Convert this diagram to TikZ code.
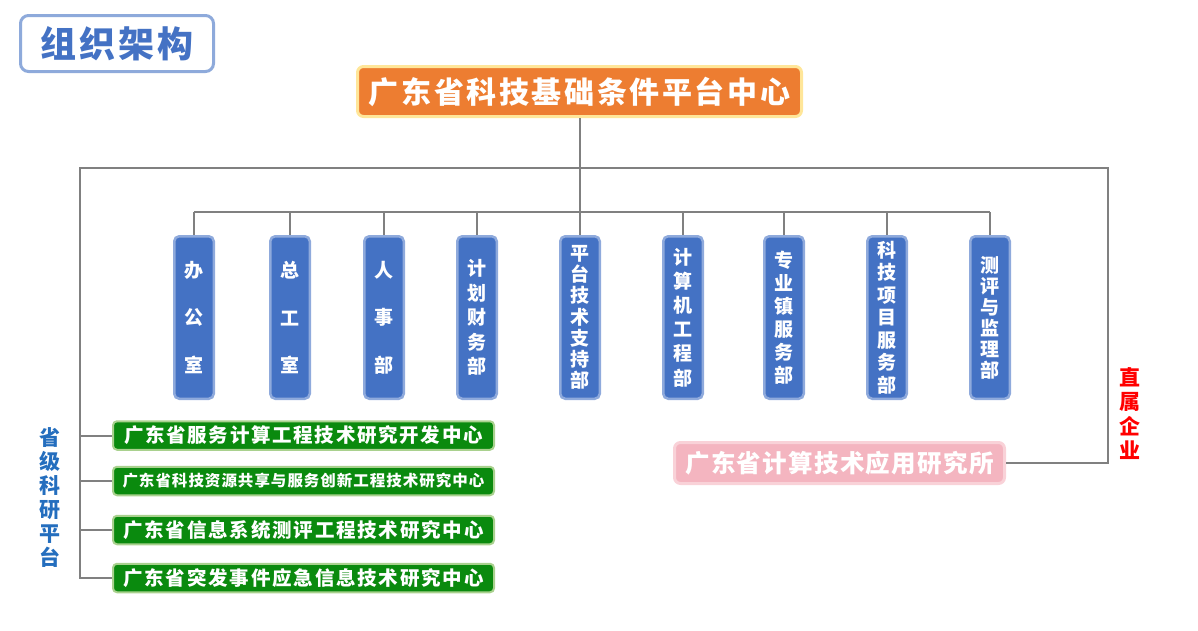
\documentclass[tikz,border=0pt]{standalone}
\usepackage{fontspec}
\setmainfont{Noto Sans CJK SC}
\ExplSyntaxOn
\dim_new:N \l_my_gap_dim
\tl_new:N \l_my_rest_tl
\cs_new:Npn \my_sp:n #1 { \hspace*{\l_my_gap_dim} #1 }
\NewDocumentCommand\sptext{mm}{
  \dim_set:Nn \l_my_gap_dim {#1}
  \tl_head:n {#2}
  \tl_set:Nx \l_my_rest_tl { \tl_tail:n {#2} }
  \tl_map_function:NN \l_my_rest_tl \my_sp:n
}
\ExplSyntaxOff
\definecolor{lineg}{RGB}{128,128,128}
\definecolor{titleb}{RGB}{142,170,219}
\definecolor{titlet}{RGB}{68,114,196}
\definecolor{orangef}{RGB}{237,125,49}
\definecolor{orangeb}{RGB}{255,230,153}
\definecolor{deptf}{RGB}{68,114,196}
\definecolor{deptb}{RGB}{143,170,220}
\definecolor{greenf}{RGB}{10,138,14}
\definecolor{greenb}{RGB}{169,209,142}
\definecolor{pinkf}{RGB}{244,181,192}
\definecolor{pinkb}{RGB}{249,210,216}
\definecolor{leftlab}{RGB}{36,110,190}
\begin{document}
\begin{tikzpicture}[x=1pt,y=-1pt,
  conn/.style={draw=lineg, line width=2pt},
  titlebox/.style={draw=titleb, fill=white, line width=3pt, rounded corners=8pt, minimum width=193pt, minimum height=56pt, inner sep=0pt, text=titlet, font=\bfseries\fontsize{36}{40}\selectfont},
  mainbox/.style={draw=orangeb, fill=orangef, line width=3pt, rounded corners=6pt, minimum width=444pt, minimum height=50pt, inner sep=0pt, text=white, font=\bfseries\fontsize{30}{34}\selectfont},
  dept/.style={draw=deptb, fill=deptf, line width=2.5pt, rounded corners=5pt, minimum width=39.5pt, minimum height=162.5pt, inner sep=0pt, align=center, text=white, font=\bfseries\fontsize{19}{#1}\selectfont},
  greenbox/.style={draw=greenb, fill=greenf, line width=2pt, rounded corners=4pt, minimum width=381pt, minimum height=28.5pt, inner sep=0pt, text=white, font=\bfseries\fontsize{#1}{#1}\selectfont},
  pinkbox/.style={draw=pinkb, fill=pinkf, line width=3pt, rounded corners=6pt, minimum width=330pt, minimum height=41pt, inner sep=0pt, text=white, font=\bfseries\fontsize{24.5}{28}\selectfont},
  sidelab/.style={align=center, inner sep=0pt, font=\bfseries\fontsize{21}{#1}\selectfont}
]
\useasboundingbox (0,0) rectangle (1198,630);

% nodes
\node[titlebox] (title) at (117,43.5) {\sptext{3pt}{组织架构}};
\node[mainbox] (main) at (579.5,91.5) {\sptext{2.6pt}{广东省科技基础条件平台中心}};

\node[dept=47.5] (d1) at (194,317.5) {办\\公\\室};
\node[dept=47.5] (d2) at (290,317.5) {总\\工\\室};
\node[dept=47.5] (d3) at (384,317.5) {人\\事\\部};
\node[dept=24.5] (d4) at (477,317.5) {计\\划\\财\\务\\部};
\node[dept=21.2] (d5) at (580,317.5) {平\\台\\技\\术\\支\\持\\部};
\node[dept=24.2] (d6) at (683,317.5) {计\\算\\机\\工\\程\\部};
\node[dept=23] (d7) at (784,317.5) {专\\业\\镇\\服\\务\\部};
\node[dept=22.5] (d8) at (887,317.5) {科\\技\\项\\目\\服\\务\\部};
\node[dept=21] (d9) at (990,317.5) {测\\评\\与\\监\\理\\部};

\node[greenbox=19.5] (g1) at (303.5,435.5) {\sptext{1.7pt}{广东省服务计算工程技术研究开发中心}};
\node[greenbox=15.5] (g2) at (303.5,481) {\sptext{1pt}{广东省科技资源共享与服务创新工程技术研究中心}};
\node[greenbox=19.5] (g3) at (303.5,530) {\sptext{1.8pt}{广东省信息系统测评工程技术研究中心}};
\node[greenbox=19.5] (g4) at (303.5,578) {\sptext{1.8pt}{广东省突发事件应急信息技术研究中心}};

\node[pinkbox] (inst) at (839.5,463) {\sptext{1.3pt}{广东省计算技术应用研究所}};

\node[sidelab=24, text=leftlab] (lp) at (50,498) {省\\级\\科\\研\\平\\台};
\node[sidelab=24.5, text=red] (rp) at (1130,413.5) {直\\属\\企\\业};

% junction coordinates
\coordinate (busy) at (0,212);
\coordinate (loopL) at (80,168);
\coordinate (loopR) at (1108,168);

% connectors
\draw[conn] (main.south) -- (main.south |- busy);
\draw[conn] (d1.north |- busy) -- (d9.north |- busy);
\foreach \d in {d1,d2,d3,d4,d5,d6,d7,d8,d9}
  \draw[conn] (\d.north |- busy) -- (\d.north);
\draw[conn] (g4.west) -| (loopL) -- (loopR) |- (inst.east);
\foreach \g in {g1,g2,g3}
  \draw[conn] (\g.west -| loopL) -- (\g.west);
\end{tikzpicture}
\end{document}
